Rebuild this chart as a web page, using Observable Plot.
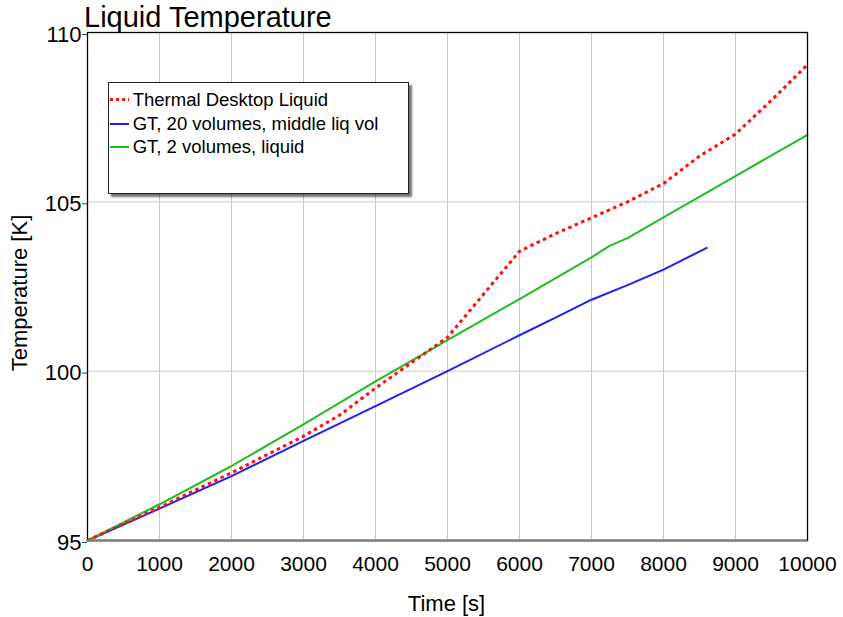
<!DOCTYPE html>
<html>
<head>
<meta charset="utf-8">
<script src="https://cdn.jsdelivr.net/npm/d3@7"></script>
<script src="https://cdn.jsdelivr.net/npm/@observablehq/plot@0.6"></script>
<style>
  html, body { margin: 0; padding: 0; background: #fff; }
  #wrap { position: relative; width: 843px; height: 617px; font-family: "Liberation Sans", Arial, sans-serif; color: #000; overflow: hidden; }
  #chart { position: absolute; left: 0; top: 0; }
  .abs { position: absolute; white-space: nowrap; }
  #title { left: 84px; top: 3px; font-size: 29px; line-height: 29px; }
  #xlabel { left: 446.5px; top: 593px; font-size: 22px; line-height: 22px; transform: translateX(-50%); }
  #ylabel { left: 20px; top: 293px; font-size: 22px; line-height: 22px; transform: translate(-50%, -50%) rotate(-90deg); }
  #legend { left: 108px; top: 82px; width: 299px; height: 110px; border: 1px solid #222; background: #fff; box-shadow: 3px 3px 2px rgba(0,0,0,0.55); }
  .row { position: absolute; left: 1px; height: 23px; width: 290px; font-size: 18.5px; line-height: 23px; }
  .sw { position: absolute; left: 0; width: 19px; }
  .tx { position: absolute; left: 22.7px; top: 0; }
</style>
</head>
<body>
<div id="wrap">
  <div id="chart"></div>
  <div id="title" class="abs">Liquid Temperature</div>
  <div id="xlabel" class="abs">Time [s]</div>
  <div id="ylabel" class="abs">Temperature [K]</div>
  <div id="legend" class="abs"></div>
</div>
<script>
// ---- Data ----
const tdTime   = [0, 1000, 2000, 3000, 3500, 4000, 4500, 5000, 6000, 6500, 7000, 7500, 8000, 8500, 9000, 9500, 10000];
const tdTemp   = [95, 95.98, 97.0, 98.08, 98.7, 99.5, 100.25, 101.0, 103.54, 104.06, 104.53, 105.0, 105.54, 106.35, 107.0, 108.0, 109.05];

const gt20Time = [0, 1000, 2000, 3000, 4000, 5000, 6000, 6500, 7000, 7500, 8000, 8600];
const gt20Temp = [95, 95.94, 96.9, 97.94, 98.97, 100.0, 101.06, 101.58, 102.11, 102.54, 103.0, 103.64];

const gt2Time  = [0, 1000, 2000, 3000, 4000, 5000, 6000, 7000, 7250, 7500, 8000, 9000, 10000];
const gt2Temp  = [95, 96.07, 97.2, 98.43, 99.7, 100.92, 102.13, 103.36, 103.7, 103.93, 104.54, 105.76, 106.98];

const seriesNames = ["Thermal Desktop Liquid", "GT, 20 volumes, middle liq vol", "GT, 2 volumes, liquid"];
const xTicks = [0, 1000, 2000, 3000, 4000, 5000, 6000, 7000, 8000, 9000, 10000];
const yTicks = [95, 100, 105, 110];

const colors = { red: "#ff1010", blue: "#2020f4", green: "#20bc20" };

const toRows = (ts, vs) => ts.map((t, i) => ({ t, v: vs[i] }));
const td = toRows(tdTime, tdTemp);
const gt20 = toRows(gt20Time, gt20Temp);
const gt2 = toRows(gt2Time, gt2Temp);

const chart = Plot.plot({
  width: 843,
  height: 617,
  marginTop: 32,
  marginBottom: 77,
  marginLeft: 87,
  marginRight: 36,
  style: { fontFamily: "Liberation Sans, Arial, sans-serif", color: "#000", background: "transparent" },
  x: { domain: [0, 10000] },
  y: { domain: [95, 110] },
  marks: [
    Plot.gridX(xTicks, { stroke: "#cbcbcb", strokeOpacity: 1, strokeWidth: 1 }),
    Plot.gridY(yTicks, { stroke: "#cbcbcb", strokeOpacity: 1, strokeWidth: 1 }),
    Plot.axisX({ ticks: xTicks, tickSize: 0, tickPadding: 16, fontSize: 21, tickFormat: d3.format("d"), label: null }),
    Plot.axisY({ ticks: yTicks, tickSize: 5, tickPadding: 1, fontSize: 22, tickFormat: d3.format("d"), label: null, dy: 2, stroke: "#444" }),
    Plot.line(gt20, { x: "t", y: "v", stroke: colors.blue, strokeWidth: 2 }),
    Plot.line(gt2, { x: "t", y: "v", stroke: colors.green, strokeWidth: 2 }),
    Plot.line(td, { x: "t", y: "v", stroke: colors.red, strokeWidth: 3, strokeDasharray: "3.5,3.5", strokeLinecap: "butt" }),
    Plot.frame({ stroke: "#000", strokeWidth: 1.3 }),
    Plot.ruleY([95], { stroke: "#808080", strokeWidth: 2.5 })
  ]
});
document.getElementById("chart").appendChild(chart);

// ---- Legend ----
const legend = document.getElementById("legend");
const legendItems = [
  { name: seriesNames[0], color: colors.red, dotted: true },
  { name: seriesNames[1], color: colors.blue, dotted: false },
  { name: seriesNames[2], color: colors.green, dotted: false }
];
const rowTops = [5, 29, 52];
legendItems.forEach((it, i) => {
  const row = document.createElement("div");
  row.className = "row";
  row.style.top = rowTops[i] + "px";
  const sw = document.createElement("div");
  sw.className = "sw";
  if (it.dotted) {
    sw.style.top = "10px";
    sw.style.height = "3px";
    sw.style.background = `repeating-linear-gradient(to right, ${it.color} 0 3px, transparent 3px 6px)`;
  } else {
    sw.style.top = "10.5px";
    sw.style.height = "2px";
    sw.style.background = it.color;
  }
  const tx = document.createElement("div");
  tx.className = "tx";
  tx.textContent = it.name;
  row.appendChild(sw);
  row.appendChild(tx);
  legend.appendChild(row);
});
</script>
</body>
</html>
